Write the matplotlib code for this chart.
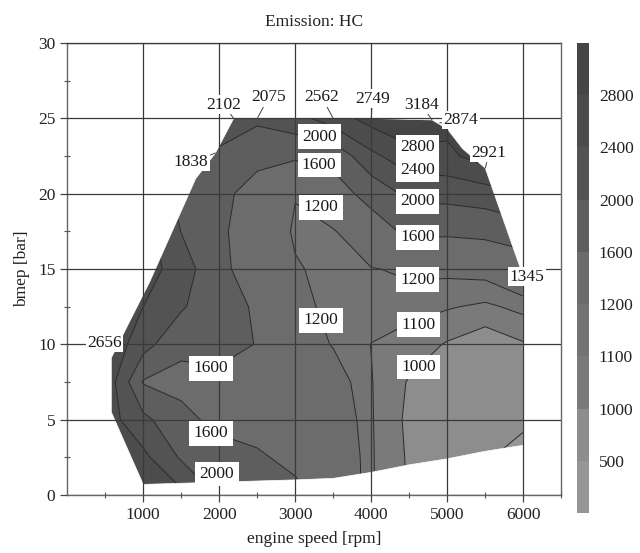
import numpy as np
import matplotlib
matplotlib.use('Agg')
import matplotlib.pyplot as plt
from matplotlib.path import Path
from matplotlib.patches import PathPatch

plt.rcParams['font.family'] = ['Liberation Serif', 'DejaVu Serif']

# grid of the map
rpm = [500, 1000, 1500, 2000, 2500, 3000, 3500, 4000, 4500, 5000, 5500, 6000]
bmep = [0, 2.5, 5, 7.5, 10, 12.5, 15, 17.5, 20, 22.5, 25]
hc = np.array([
    [2700, 2900, 2500, 1950, 1800, 1700, 1450, 1110, 990, 900, 800, 600],
    [2600, 2500, 1950, 1750, 1650, 1500, 1420, 1110, 985, 850, 530, 380],
    [2600, 2100, 1700, 1500, 1450, 1400, 1350, 1108, 975, 870, 750, 560],
    [2700, 1570, 1500, 1520, 1450, 1350, 1280, 1105, 990, 900, 850, 850],
    [2750, 2150, 1680, 1700, 1590, 1300, 1190, 1098, 1060, 990, 930, 990],
    [2800, 2400, 2050, 1700, 1570, 1260, 1150, 1150, 1130, 1110, 1080, 1130],
    [2800, 2600, 2200, 1680, 1430, 1220, 1140, 1190, 1230, 1230, 1250, 1380],
    [2700, 2600, 1990, 1660, 1410, 1170, 1180, 1420, 1680, 1660, 1700, 1800],
    [2600, 2500, 1850, 1700, 1450, 1210, 1450, 1720, 2100, 2130, 2200, 2400],
    [2500, 2400, 1900, 1950, 1700, 1650, 1700, 2300, 2650, 2700, 3000, 3000],
    [2400, 2300, 2000, 2150, 2075, 2250, 2600, 2950, 3150, 2950, 3100, 3100],
])

levels = [0, 500, 1000, 1100, 1200, 1600, 2000, 2400, 2800, 3500]
band_colors = ['#969696', '#8d8d8d', '#7a7a7a', '#737373', '#6c6c6c',
               '#5e5e5e', '#535353', '#4c4c4c', '#454545']

# outline of the measured area
edge_rpm = [1000, 2000, 3000, 3500, 4000, 4500, 5000, 5500, 6000, 6000, 5500,
            5200, 5000, 4800, 4000, 3000, 2500, 2190, 1950, 1690, 1090, 800,
            580, 580]
edge_bmep = [0.7, 0.85, 1.0, 1.1, 1.5, 2.0, 2.4, 2.9, 3.3, 14.5, 21.7,
             23.0, 24.3, 24.9, 25.0, 25.0, 25.0, 25.0, 22.7, 21.0, 14.2, 11.3,
             9.1, 5.5]

# measured points on the outline
point_rpm = [2190, 2500, 3500, 4000, 4800, 4900, 5500, 1950, 650, 6000]
point_bmep = [25.0, 25.0, 25.0, 25.0, 24.9, 24.7, 21.7, 22.7, 10.0, 14.5]
point_hc = [2102, 2075, 2562, 2749, 3184, 2874, 2921, 1838, 2656, 1345]
point_offsets = [(-130, 0.9), (150, 1.4), (-150, 1.4), (15, 1.3), (-140, 1.0),
                 (280, 0.2), (50, 1.0), (-320, -0.6), (-160, 0.1), (50, 0)]

# contour labels
label_text = ['2000', '1600', '1200', '2800', '2400', '2000', '1600', '1200',
              '1100', '1000', '1200', '1600', '1600', '2000']
label_xy = [(3315, 23.8), (3315, 21.9), (3340, 19.1), (4610, 23.1), (4610, 21.6),
            (4610, 19.5), (4610, 17.1), (4610, 14.3), (4620, 11.3), (4620, 8.5),
            (3340, 11.6), (1890, 8.4), (1890, 4.1), (1970, 1.4)]

fig = plt.figure(figsize=(6.4, 5.53), dpi=100)
ax = fig.add_axes([0.105, 0.105, 0.772, 0.817])
cax = fig.add_axes([0.9016, 0.0723, 0.019, 0.85])

cs = ax.contourf(rpm, bmep, hc, levels=levels, colors=band_colors, antialiased=True)
cl = ax.contour(rpm, bmep, hc, levels=levels[1:-1], colors='#262626', linewidths=0.7)

# white mask outside the measured area
xmin, xmax, ymin, ymax = 0, 6500, 0, 30
outer = [(xmin, ymin), (xmax, ymin), (xmax, ymax), (xmin, ymax), (xmin, ymin)]
inner = list(zip(edge_rpm, edge_bmep))[::-1]
inner = inner + [inner[0]]
codes = ([Path.MOVETO] + [Path.LINETO] * 3 + [Path.CLOSEPOLY]
         + [Path.MOVETO] + [Path.LINETO] * (len(inner) - 2) + [Path.CLOSEPOLY])
mask = PathPatch(Path(outer + inner, codes), facecolor='white', edgecolor='white',
                 linewidth=0.5, zorder=2.2)
ax.add_patch(mask)

ax.set_xlim(xmin, xmax)
ax.set_ylim(ymin, ymax)
ax.set_xticks([1000, 2000, 3000, 4000, 5000, 6000])
ax.set_xticks(np.arange(500, 6501, 500), minor=True)
ax.set_yticks([0, 5, 10, 15, 20, 25, 30])
ax.set_yticks(np.arange(0, 30.1, 2.5), minor=True)
ax.tick_params(which='major', direction='out', length=5, width=0.9,
               color='#444444', labelsize=12.5, labelcolor='#222222')
ax.tick_params(which='minor', direction='inout', length=4, width=0.8, color='#555555')
ax.grid(True, which='major', color='#3a3a3a', linewidth=0.9)
ax.set_axisbelow(False)
for s in ax.spines.values():
    s.set_color('#666666')
    s.set_linewidth(1.0)

for t, (x, y) in zip(label_text, label_xy):
    ax.text(x, y, t, ha='center', va='center', fontsize=12.5, color='#1a1a1a', zorder=4,
            bbox=dict(boxstyle='square,pad=0.25', fc='white', ec='none'))

for x, y, v, (dx, dy) in zip(point_rpm, point_bmep, point_hc, point_offsets):
    ax.annotate(str(v), xy=(x, y), xytext=(x + dx, y + dy), ha='center', va='center',
                fontsize=12.5, color='#1a1a1a', zorder=4, annotation_clip=False,
                bbox=dict(boxstyle='square,pad=0.08', fc='white', ec='none'),
                arrowprops=dict(arrowstyle='-', color='#444444', lw=0.7,
                                shrinkA=0, shrinkB=0))

ax.set_title('Emission: HC', fontsize=12.5, pad=12, color='#222222')
ax.set_xlabel('engine speed [rpm]', fontsize=12.5, labelpad=6, color='#222222')
ax.set_ylabel('bmep [bar]', fontsize=12.5, labelpad=6, color='#222222')

cb = fig.colorbar(cs, cax=cax, ticks=levels[1:-1], spacing='uniform')
cb.outline.set_visible(False)
cax.tick_params(length=0, pad=7, labelsize=12.5, labelcolor='#222222')

fig.savefig('out.png', dpi=100)
